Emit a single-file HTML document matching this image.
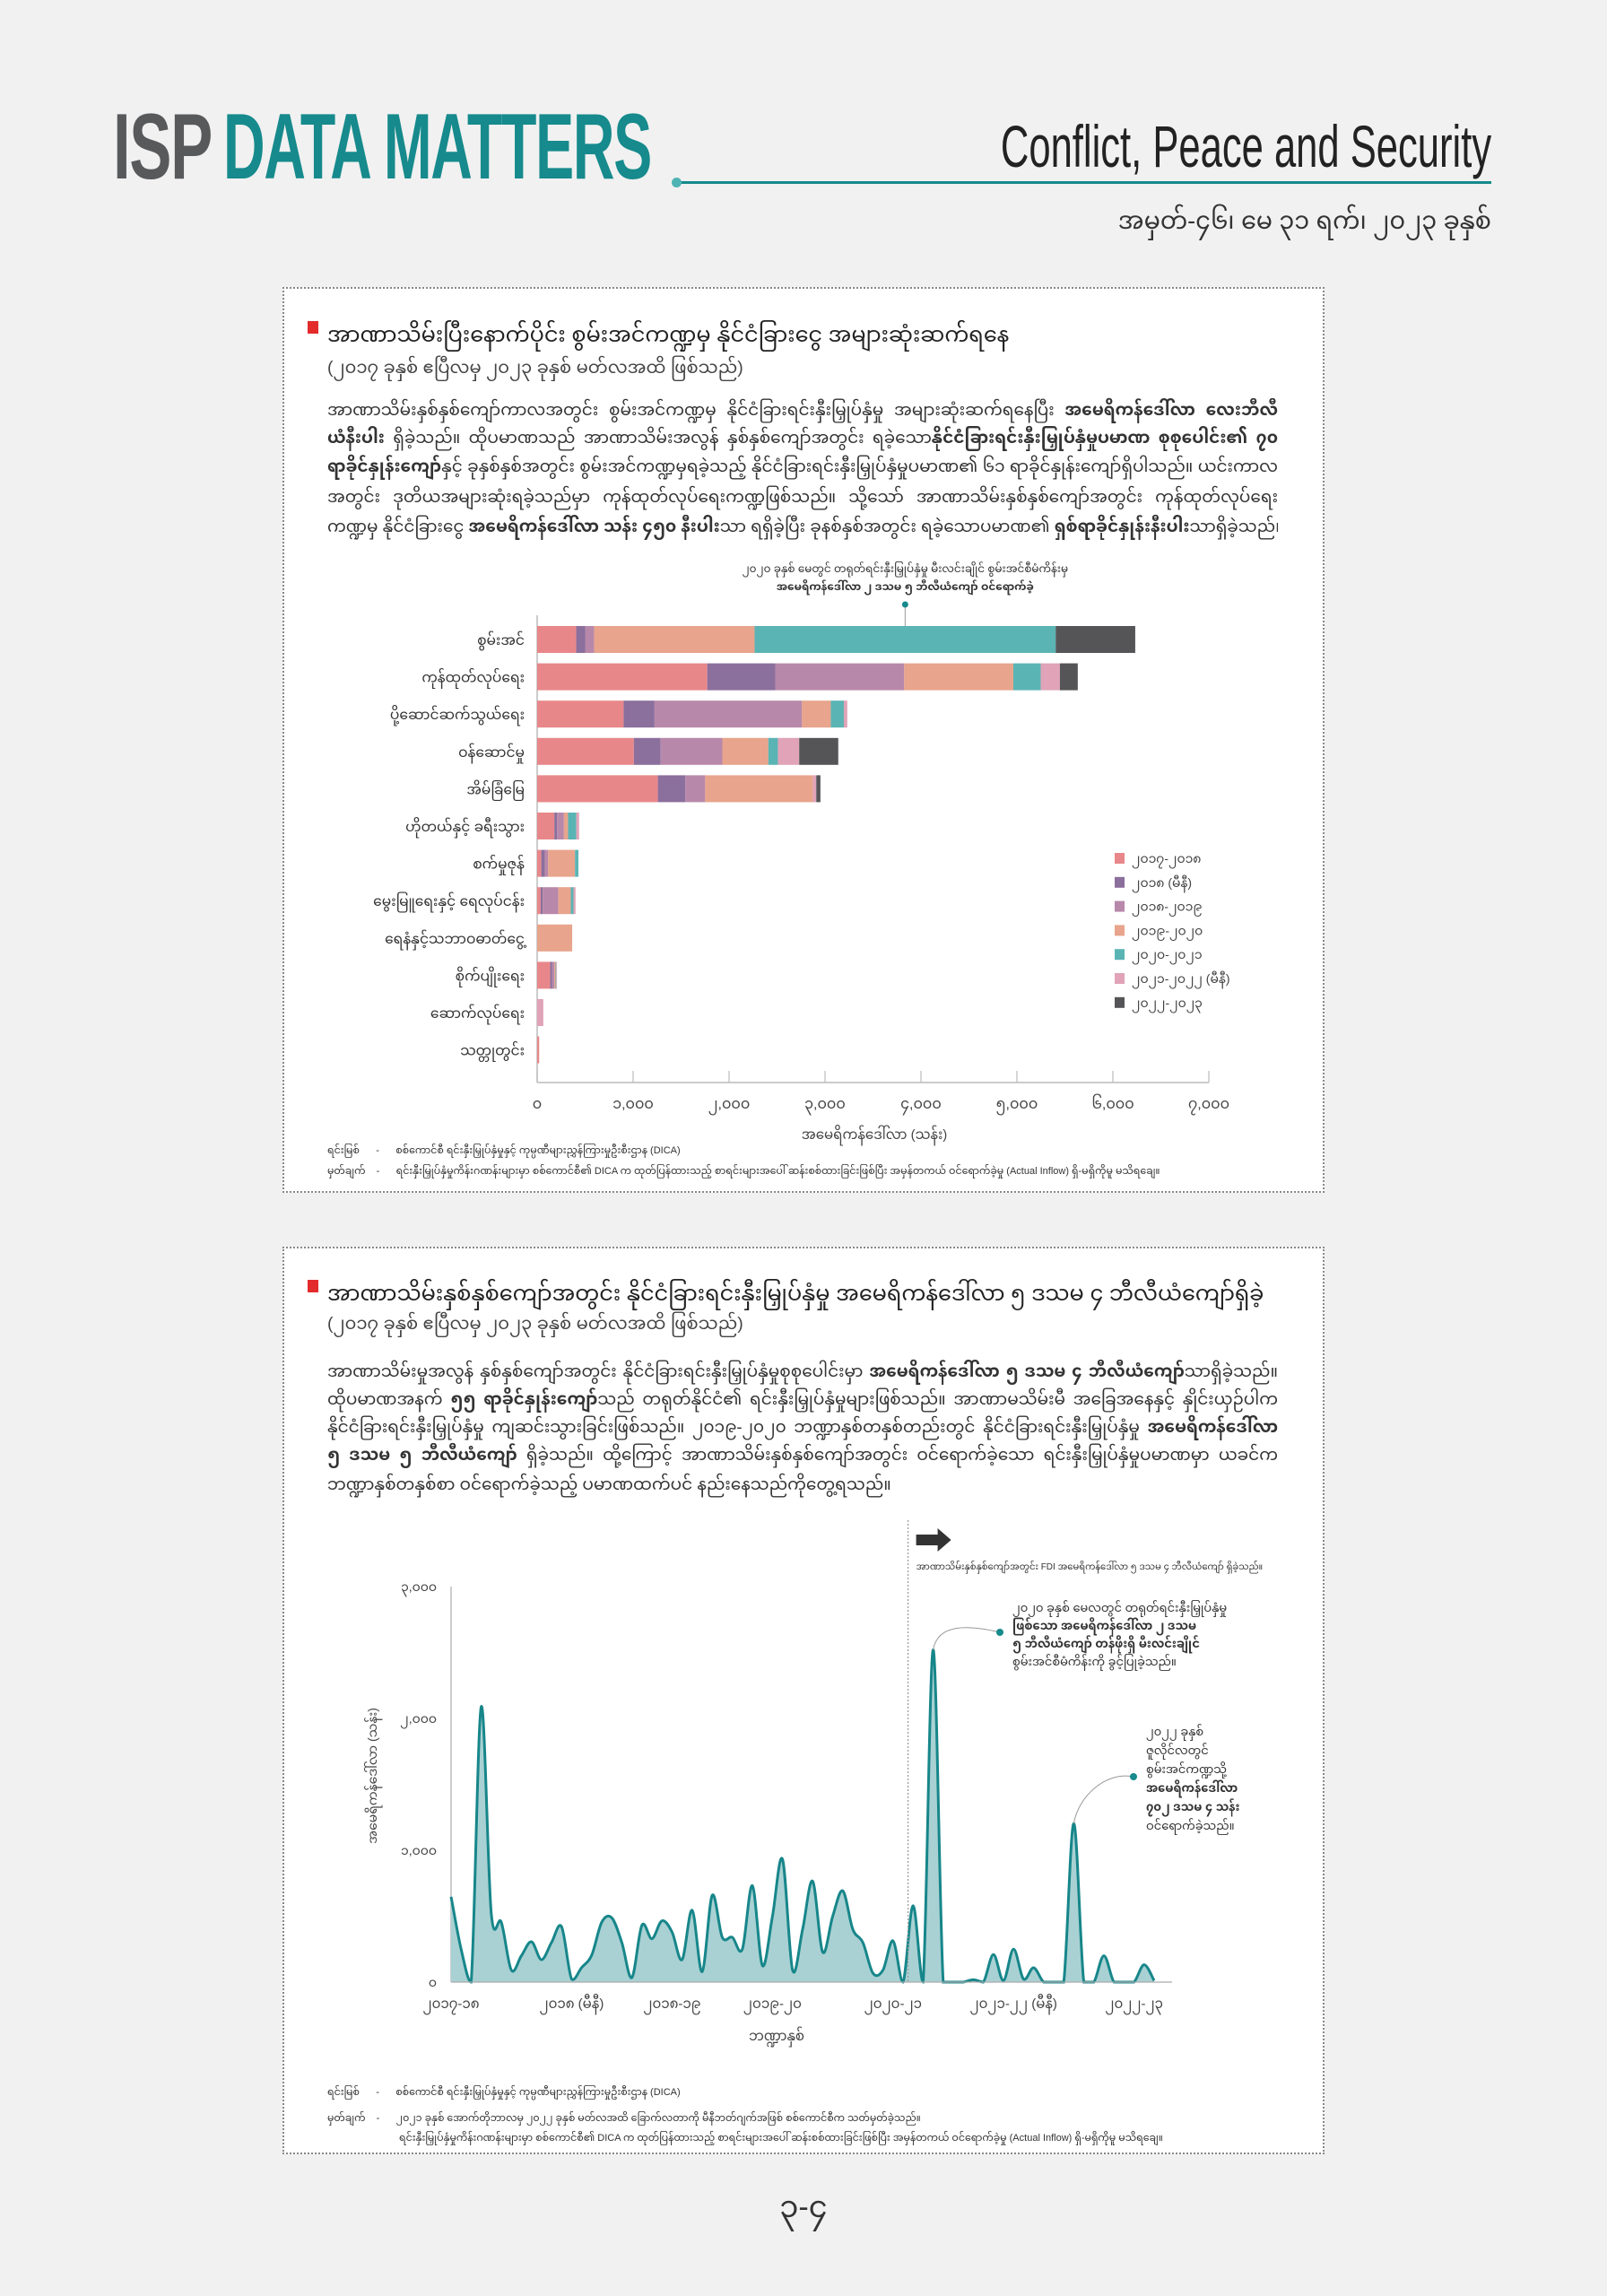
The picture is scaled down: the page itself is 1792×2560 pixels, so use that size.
<!DOCTYPE html>
<html><head><meta charset="utf-8">
<style>
*{margin:0;padding:0;box-sizing:border-box}
body{width:1792px;height:2560px;background:#f1f1f1;position:relative;overflow:hidden;font-family:"Liberation Sans","Noto Sans Myanmar","Padauk","Myanmar Text",sans-serif;color:#222}
.abs{position:absolute}
.panel{position:absolute;left:315px;width:1162px;background:#fff;border:2px dotted #888}
.line{position:absolute;left:365px;width:1060px;white-space:nowrap;overflow:hidden;font-size:18.5px;line-height:30px;text-align:justify;text-align-last:justify;color:#333}
.line.last{text-align-last:left}
.title{position:absolute;left:365px;font-size:24px;white-space:nowrap;color:#222}
.sub{position:absolute;left:365px;font-size:19.5px;white-space:nowrap;color:#444}
.sq{position:absolute;width:12px;height:14px;background:#e32b2b}
.src{position:absolute;font-size:11px;white-space:nowrap;color:#333}
svg.full{position:absolute;left:0;top:0;width:1792px;height:2560px;pointer-events:none}
svg text{font-family:"Liberation Sans","Noto Sans Myanmar","Padauk",sans-serif}
</style></head><body>

<div class="abs" style="left:126px;top:112px;font-size:104px;font-weight:bold;color:#58595b;transform:scaleX(0.68);transform-origin:left top;letter-spacing:-2px;line-height:104px">ISP</div>
<div class="abs" style="left:249px;top:112px;font-size:104px;font-weight:bold;color:#168a8c;transform:scaleX(0.62);transform-origin:left top;letter-spacing:-2px;line-height:104px;white-space:nowrap">DATA MATTERS</div>
<div class="abs" style="left:754px;top:202px;width:909px;height:3px;background:#168a8c"></div>
<div class="abs" style="left:749px;top:198px;width:11px;height:11px;border-radius:50%;background:#4fb3b3"></div>
<div class="abs" style="right:129px;top:128px;font-size:66px;color:#222;transform:scaleX(0.66);transform-origin:right top;white-space:nowrap;line-height:70px">Conflict, Peace and Security</div>
<div class="abs" style="right:129px;top:220px;font-size:27px;color:#333;white-space:nowrap">အမှတ်-၄၆၊ မေ ၃၁ ရက်၊ ၂၀၂၃ ခုနှစ်</div>

<!-- Panel 1 -->
<div class="panel" style="top:320px;height:1010px"></div>
<div class="sq" style="left:343px;top:358px"></div>
<div class="title" style="top:349px">အာဏာသိမ်းပြီးနောက်ပိုင်း စွမ်းအင်ကဏ္ဍမှ နိုင်ငံခြားငွေ အများဆုံးဆက်ရနေ</div>
<div class="sub" style="top:390px">(၂၀၁၇ ခုနှစ် ဧပြီလမှ ၂၀၂၃ ခုနှစ် မတ်လအထိ ဖြစ်သည်)</div>
<div class="line" style="top:442px">အာဏာသိမ်းနှစ်နှစ်ကျော်ကာလအတွင်း စွမ်းအင်ကဏ္ဍမှ နိုင်ငံခြားရင်းနှီးမြှုပ်နှံမှု အများဆုံးဆက်ရနေပြီး <b>အမေရိကန်ဒေါ်လာ လေးဘီလီ</b></div>
<div class="line" style="top:473px"><b>ယံနီးပါး</b> ရှိခဲ့သည်။ ထိုပမာဏသည် အာဏာသိမ်းအလွန် နှစ်နှစ်ကျော်အတွင်း ရခဲ့သော<b>နိုင်ငံခြားရင်းနှီးမြှုပ်နှံမှုပမာဏ စုစုပေါင်း၏ ၇၀</b></div>
<div class="line" style="top:505px"><b>ရာခိုင်နှုန်းကျော်</b>နှင့် ခုနှစ်နှစ်အတွင်း စွမ်းအင်ကဏ္ဍမှရခဲ့သည့် နိုင်ငံခြားရင်းနှီးမြှုပ်နှံမှုပမာဏ၏ ၆၁ ရာခိုင်နှုန်းကျော်ရှိပါသည်။ ယင်းကာလ</div>
<div class="line" style="top:539px">အတွင်း ဒုတိယအများဆုံးရခဲ့သည်မှာ ကုန်ထုတ်လုပ်ရေးကဏ္ဍဖြစ်သည်။ သို့သော် အာဏာသိမ်းနှစ်နှစ်ကျော်အတွင်း ကုန်ထုတ်လုပ်ရေး</div>
<div class="line" style="top:572px">ကဏ္ဍမှ နိုင်ငံခြားငွေ <b>အမေရိကန်ဒေါ်လာ သန်း ၄၅၀ နီးပါး</b>သာ ရရှိခဲ့ပြီး ခုနစ်နှစ်အတွင်း ရခဲ့သောပမာဏ၏ <b>ရှစ်ရာခိုင်နှုန်းနီးပါး</b>သာရှိခဲ့သည်။</div>
<div class="src" style="left:365px;top:1272px">ရင်းမြစ် &nbsp;&nbsp;&nbsp;&nbsp;&nbsp;-&nbsp;&nbsp;&nbsp;&nbsp;&nbsp; စစ်ကောင်စီ ရင်းနှီးမြှုပ်နှံမှုနှင့် ကုမ္ပဏီများညွှန်ကြားမှုဦးစီးဌာန (DICA)</div>
<div class="src" style="left:365px;top:1295px">မှတ်ချက် &nbsp;&nbsp;&nbsp;-&nbsp;&nbsp;&nbsp;&nbsp;&nbsp; ရင်းနှီးမြှုပ်နှံမှုကိန်းဂဏန်းများမှာ စစ်ကောင်စီ၏ DICA က ထုတ်ပြန်ထားသည့် စာရင်းများအပေါ် ဆန်းစစ်ထားခြင်းဖြစ်ပြီး အမှန်တကယ် ဝင်ရောက်ခဲ့မှု (Actual Inflow) ရှိ-မရှိကိုမူ မသိရချေ။</div>

<!-- Panel 2 -->
<div class="panel" style="top:1390px;height:1012px"></div>
<div class="sq" style="left:343px;top:1427px"></div>
<div class="title" style="top:1418px">အာဏာသိမ်းနှစ်နှစ်ကျော်အတွင်း နိုင်ငံခြားရင်းနှီးမြှုပ်နှံမှု အမေရိကန်ဒေါ်လာ ၅ ဒသမ ၄ ဘီလီယံကျော်ရှိခဲ့</div>
<div class="sub" style="top:1456px">(၂၀၁၇ ခုနှစ် ဧပြီလမှ ၂၀၂၃ ခုနှစ် မတ်လအထိ ဖြစ်သည်)</div>
<div class="line" style="top:1514px">အာဏာသိမ်းမှုအလွန် နှစ်နှစ်ကျော်အတွင်း နိုင်ငံခြားရင်းနှီးမြှုပ်နှံမှုစုစုပေါင်းမှာ <b>အမေရိကန်ဒေါ်လာ ၅ ဒသမ ၄ ဘီလီယံကျော်</b>သာရှိခဲ့သည်။</div>
<div class="line" style="top:1545px">ထိုပမာဏအနက် <b>၅၅ ရာခိုင်နှုန်းကျော်</b>သည် တရုတ်နိုင်ငံ၏ ရင်းနှီးမြှုပ်နှံမှုများဖြစ်သည်။ အာဏာမသိမ်းမီ အခြေအနေနှင့် နှိုင်းယှဉ်ပါက</div>
<div class="line" style="top:1576px">နိုင်ငံခြားရင်းနှီးမြှုပ်နှံမှု ကျဆင်းသွားခြင်းဖြစ်သည်။ ၂၀၁၉-၂၀၂၀ ဘဏ္ဍာနှစ်တနှစ်တည်းတွင် နိုင်ငံခြားရင်းနှီးမြှုပ်နှံမှု <b>အမေရိကန်ဒေါ်လာ</b></div>
<div class="line" style="top:1607px"><b>၅ ဒသမ ၅ ဘီလီယံကျော်</b> ရှိခဲ့သည်။ ထို့ကြောင့် အာဏာသိမ်းနှစ်နှစ်ကျော်အတွင်း ဝင်ရောက်ခဲ့သော ရင်းနှီးမြှုပ်နှံမှုပမာဏမှာ ယခင်က</div>
<div class="line last" style="top:1640px">ဘဏ္ဍာနှစ်တနှစ်စာ ဝင်ရောက်ခဲ့သည့် ပမာဏထက်ပင် နည်းနေသည်ကိုတွေ့ရသည်။</div>
<div class="src" style="left:365px;top:2322px">ရင်းမြစ် &nbsp;&nbsp;&nbsp;&nbsp;&nbsp;-&nbsp;&nbsp;&nbsp;&nbsp;&nbsp; စစ်ကောင်စီ ရင်းနှီးမြှုပ်နှံမှုနှင့် ကုမ္ပဏီများညွှန်ကြားမှုဦးစီးဌာန (DICA)</div>
<div class="src" style="left:365px;top:2351px">မှတ်ချက် &nbsp;&nbsp;&nbsp;-&nbsp;&nbsp;&nbsp;&nbsp;&nbsp; ၂၀၂၁ ခုနှစ် အောက်တိုဘာလမှ ၂၀၂၂ ခုနှစ် မတ်လအထိ ခြောက်လတာကို မီနီဘတ်ဂျက်အဖြစ် စစ်ကောင်စီက သတ်မှတ်ခဲ့သည်။</div>
<div class="src" style="left:445px;top:2373px">ရင်းနှီးမြှုပ်နှံမှုကိန်းဂဏန်းများမှာ စစ်ကောင်စီ၏ DICA က ထုတ်ပြန်ထားသည့် စာရင်းများအပေါ် ဆန်းစစ်ထားခြင်းဖြစ်ပြီး အမှန်တကယ် ဝင်ရောက်ခဲ့မှု (Actual Inflow) ရှိ-မရှိကိုမူ မသိရချေ။</div>

<div class="abs" style="left:846px;top:2428px;width:100px;text-align:center;font-size:34px;color:#333">၃-၄</div>

<svg class="full" id="bar" xmlns="http://www.w3.org/2000/svg"></svg>
<svg class="full" id="area" xmlns="http://www.w3.org/2000/svg"></svg>

<script>
// ---- Bar chart data ----
const sectors = ["စွမ်းအင်","ကုန်ထုတ်လုပ်ရေး","ပို့ဆောင်ဆက်သွယ်ရေး","ဝန်ဆောင်မှု","အိမ်ခြံမြေ","ဟိုတယ်နှင့် ခရီးသွား","စက်မှုဇုန်","မွေးမြူရေးနှင့် ရေလုပ်ငန်း","ရေနံနှင့်သဘာဝဓာတ်ငွေ့","စိုက်ပျိုးရေး","ဆောက်လုပ်ရေး","သတ္တုတွင်း"];
const periods = ["၂၀၁၇-၂၀၁၈","၂၀၁၈ (မီနီ)","၂၀၁၈-၂၀၁၉","၂၀၁၉-၂၀၂၀","၂၀၂၀-၂၀၂၁","၂၀၂၁-၂၀၂၂ (မီနီ)","၂၀၂၂-၂၀၂၃"];
const fy1718 = [407,1773,901,1008,1258,179,43,36,0,136,0,21];
const mini18 = [93,708,322,279,286,29,36,21,0,21,0,0];
const fy1819 = [93,1344,1537,643,207,71,36,164,0,21,0,0];
const fy1920 = [1673,1137,300,479,1122,43,279,129,365,14,0,0];
const fy2021 = [3138,286,136,100,0,86,36,29,0,7,0,0];
const mini21 = [0,200,36,222,36,29,0,21,0,7,64,0];
const fy2223 = [829,186,0,407,43,0,0,0,0,0,0,0];
const barXTicks = [0,1000,2000,3000,4000,5000,6000,7000];
const barXTickLabels = ["၀","၁,၀၀၀","၂,၀၀၀","၃,၀၀၀","၄,၀၀၀","၅,၀၀၀","၆,၀၀၀","၇,၀၀၀"];

// ---- Area chart data (monthly FDI, USD million) ----
const monthlyFDI = [647,250,0,2088,522,454,91,200,306,170,300,420,23,110,204,454,488,300,34,431,329,465,380,170,545,79,658,340,340,250,731,125,500,931,91,400,765,227,500,692,400,300,68,91,313,0,579,0,2520,0,0,0,18,0,209,11,250,23,109,0,0,0,1203,0,0,200,0,0,0,132,11];
const areaYTicks = [0,1000,2000,3000];
const areaYTickLabels = ["၀","၁,၀၀၀","၂,၀၀၀","၃,၀၀၀"];
const areaXLabels = ["၂၀၁၇-၁၈","၂၀၁၈ (မီနီ)","၂၀၁၈-၁၉","၂၀၁၉-၂၀","၂၀၂၀-၂၁","၂၀၂၁-၂၂ (မီနီ)","၂၀၂၂-၂၃"];
const areaXLabelMonth = [0,12,22,32,44,56,68];
const coupMonth = 45.5;

const NS="http://www.w3.org/2000/svg";
function mk(svg,tag,attrs,text){const e=document.createElementNS(NS,tag);for(const k in attrs)e.setAttribute(k,attrs[k]);if(text!==undefined)e.textContent=text;svg.appendChild(e);return e;}

// ---------- BAR CHART ----------
(function(){
  const svg=document.getElementById('bar');
  const x0=599,pxPer=107/1000,yTop=686,axisY=1207,barH=30,step=41.6,firstC=713;
  const X=v=>x0+v*pxPer;
  const Y=i=>firstC+i*step;
  const colors=["#e8878a","#8b6f9c","#b888aa","#e8a48c","#5bb4b4","#e0a3b7","#555558"];
  const series=[fy1718,mini18,fy1819,fy1920,fy2021,mini21,fy2223];
  let e=mk(svg,'line',{x1:x0,y1:yTop,x2:x0,y2:axisY,stroke:'#bbb','stroke-width':1.5});
  
  e=mk(svg,'line',{x1:x0,y1:axisY,x2:X(7000),y2:axisY,stroke:'#bbb','stroke-width':1.5});
  
  barXTicks.forEach((t,i)=>{
    const tk=mk(svg,'line',{x1:X(t),y1:axisY-13,x2:X(t),y2:axisY,stroke:'#bbb','stroke-width':1.2});
    
    const tl=mk(svg,'text',{x:X(t),y:1236,'font-size':16,'text-anchor':'middle',fill:'#444'},barXTickLabels[i]);
    
  });
  const at=mk(svg,'text',{x:975,y:1270,'font-size':15,'text-anchor':'middle',fill:'#444'},'အမေရိကန်ဒေါ်လာ (သန်း)');
  
  sectors.forEach((s,i)=>{
    let acc=0;
    series.forEach((ser,k)=>{
      const v=ser[i];
      if(v>0){
        const r=mk(svg,'rect',{x:X(acc),y:Y(i)-barH/2,width:v*pxPer,height:barH,fill:colors[k]});
        
      }
      acc+=v;
    });
    const l=mk(svg,'text',{x:585,y:Y(i)+6,'font-size':15.5,'text-anchor':'end',fill:'#333'},s);
    
  });
  periods.forEach((p,k)=>{
    const y=951+k*26.8;
    const r=mk(svg,'rect',{x:1243,y:y,width:11,height:12,fill:colors[k]});
    
    const t=mk(svg,'text',{x:1262,y:y+11,'font-size':14,fill:'#444'},p);
    
  });
  const ax=x0+(fy1718[0]+mini18[0]+fy1819[0]+fy1920[0]+fy2021[0]*0.5)*pxPer;
  e=mk(svg,'line',{x1:ax,y1:674,x2:ax,y2:Y(0)-barH/2,stroke:'#999','stroke-width':1});
  
  e=mk(svg,'circle',{cx:ax,cy:674,r:3.5,fill:'#168a8c'});
  
  e=mk(svg,'text',{x:ax,y:638,'font-size':12,'text-anchor':'middle',fill:'#333'},'၂၀၂၀ ခုနှစ် မေတွင် တရုတ်ရင်းနှီးမြှုပ်နှံမှု မီးလင်းချိုင် စွမ်းအင်စီမံကိန်းမှ');
  
  e=mk(svg,'text',{x:ax,y:658,'font-size':12,'text-anchor':'middle',fill:'#333','font-weight':'bold'},'အမေရိကန်ဒေါ်လာ ၂ ဒသမ ၅ ဘီလီယံကျော် ဝင်ရောက်ခဲ့');
  
})();

// ---------- AREA CHART ----------
(function(){
  const svg=document.getElementById('area');
  const x0=503,xStep=11.2,y0=2210,pxPer=147/1000,xEnd=1307;
  const X=i=>x0+i*xStep;
  const Y=v=>y0-v*pxPer;
  let e=mk(svg,'line',{x1:x0,y1:Y(3000),x2:x0,y2:y0,stroke:'#aaa','stroke-width':1.2});
  
  areaYTicks.forEach((t,i)=>{
    const tl=mk(svg,'text',{x:487,y:Y(t)+5,'font-size':14,'text-anchor':'end',fill:'#444'},areaYTickLabels[i]);
    
  });
  const yt=mk(svg,'text',{x:0,y:0,'font-size':14,'text-anchor':'middle',fill:'#444',transform:'translate(420,1980) rotate(-90)'},'အမေရိကန်ဒေါ်လာ (သန်း)');
  
  const pts=monthlyFDI.map((v,i)=>[X(i),Y(v)]);
  let d='M'+pts[0][0]+','+pts[0][1];
  for(let i=0;i<pts.length-1;i++){
    const p0=pts[Math.max(0,i-1)],p1=pts[i],p2=pts[i+1],p3=pts[Math.min(pts.length-1,i+2)];
    const c1x=p1[0]+(p2[0]-p0[0])/6,c1y=Math.min(y0,p1[1]+(p2[1]-p0[1])/6);
    const c2x=p2[0]-(p3[0]-p1[0])/6,c2y=Math.min(y0,p2[1]-(p3[1]-p1[1])/6);
    d+=` C${c1x},${c1y} ${c2x},${c2y} ${p2[0]},${p2[1]}`;
  }
  const last=pts[pts.length-1];
  e=mk(svg,'path',{d:d+` L${last[0]},${y0} L${x0},${y0} Z`,fill:'#a9d1d3',stroke:'none'});
  
  e=mk(svg,'path',{d:d,fill:'none',stroke:'#17868a','stroke-width':3});
  
  e=mk(svg,'line',{x1:x0,y1:y0,x2:xEnd,y2:y0,stroke:'#aaa','stroke-width':1.2});
  
  areaXLabels.forEach((l,k)=>{
    const t=mk(svg,'text',{x:X(areaXLabelMonth[k]),y:2239,'font-size':15,'text-anchor':'middle',fill:'#444'},l);
    
  });
  e=mk(svg,'text',{x:866,y:2275,'font-size':15,'text-anchor':'middle',fill:'#444'},'ဘဏ္ဍာနှစ်');
  
  const cx=X(coupMonth);
  e=mk(svg,'line',{x1:cx,y1:1695,x2:cx,y2:y0,stroke:'#999','stroke-width':1.2,'stroke-dasharray':'2,2'});
  
  e=mk(svg,'path',{d:`M${cx+9},1711 h24 v-7 l15,13 l-15,13 v-7 h-24 Z`,fill:'#333'});
  
  e=mk(svg,'text',{x:cx+9,y:1750,'font-size':10,fill:'#333'},'အာဏာသိမ်းနှစ်နှစ်ကျော်အတွင်း FDI အမေရိကန်ဒေါ်လာ ၅ ဒသမ ၄ ဘီလီယံကျော် ရှိခဲ့သည်။');
  
  const p1x=X(48),p1y=Y(monthlyFDI[48]);
  e=mk(svg,'path',{d:`M${p1x},${p1y} C${p1x+5},${p1y-30} ${p1x+40},${1812} ${1115},${1820}`,fill:'none',stroke:'#999','stroke-width':1});
  
  e=mk(svg,'circle',{cx:1115,cy:1820,r:4,fill:'#168a8c'});
  
  ['၂၀၂၀ ခုနှစ် မေလတွင် တရုတ်ရင်းနှီးမြှုပ်နှံမှု','ဖြစ်သော အမေရိကန်ဒေါ်လာ ၂ ဒသမ','၅ ဘီလီယံကျော် တန်ဖိုးရှိ မီးလင်းချိုင်','စွမ်းအင်စီမံကိန်းကို ခွင့်ပြုခဲ့သည်။'].forEach((s,i)=>{
    const t=mk(svg,'text',{x:1129,y:1797+i*20,'font-size':13,fill:'#333','font-weight':(i==1||i==2)?'bold':'normal'},s);
    
  });
  const p2x=X(62),p2y=Y(monthlyFDI[62]);
  e=mk(svg,'path',{d:`M${p2x},${p2y} C${p2x+5},${p2y-30} ${p2x+35},${1975} ${1264},${1981}`,fill:'none',stroke:'#999','stroke-width':1});
  
  e=mk(svg,'circle',{cx:1264,cy:1981,r:4,fill:'#168a8c'});
  
  ['၂၀၂၂ ခုနှစ်','ဇူလိုင်လတွင်','စွမ်းအင်ကဏ္ဍသို့','အမေရိကန်ဒေါ်လာ','၇၀၂ ဒသမ ၄ သန်း','ဝင်ရောက်ခဲ့သည်။'].forEach((s,i)=>{
    const t=mk(svg,'text',{x:1278,y:1935+i*21,'font-size':13,fill:'#333','font-weight':(i==3||i==4)?'bold':'normal'},s);
    
  });
})();
</script>
</body></html>
